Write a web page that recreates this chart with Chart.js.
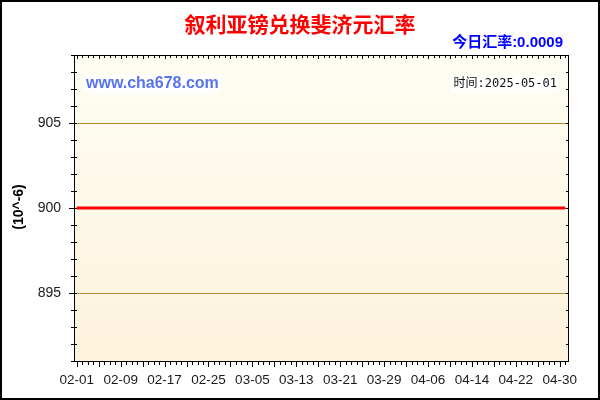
<!DOCTYPE html>
<html>
<head>
<meta charset="utf-8">
<script src="https://cdn.jsdelivr.net/npm/chart.js@4/dist/chart.umd.min.js"></script>
<style>
html,body{margin:0;padding:0;background:#fff;}
canvas{display:block;}
</style>
</head>
<body>
<canvas id="c" width="600" height="400" style="width:600px;height:400px"></canvas>
<script>
// ---- data ----
const titleText = '叙利亚镑兑换斐济元汇率';
const rateText = '今日汇率:0.0009';
const siteText = 'www.cha678.com';
const timeText = '时间:2025-05-01';
const unitText = '(10^-6)';

const dates = [
 '02-01','02-02','02-03','02-04','02-05','02-06','02-07','02-08','02-09','02-10',
 '02-11','02-12','02-13','02-14','02-15','02-16','02-17','02-18','02-19','02-20',
 '02-21','02-22','02-23','02-24','02-25','02-26','02-27','02-28',
 '03-01','03-02','03-03','03-04','03-05','03-06','03-07','03-08','03-09','03-10',
 '03-11','03-12','03-13','03-14','03-15','03-16','03-17','03-18','03-19','03-20',
 '03-21','03-22','03-23','03-24','03-25','03-26','03-27','03-28','03-29','03-30','03-31',
 '04-01','04-02','04-03','04-04','04-05','04-06','04-07','04-08','04-09','04-10',
 '04-11','04-12','04-13','04-14','04-15','04-16','04-17','04-18','04-19','04-20',
 '04-21','04-22','04-23','04-24','04-25','04-26','04-27','04-28','04-29','04-30',
 '05-01'
];
const rates = [
 900,900,900,900,900,900,900,900,900,900,
 900,900,900,900,900,900,900,900,900,900,
 900,900,900,900,900,900,900,900,
 900,900,900,900,900,900,900,900,900,900,
 900,900,900,900,900,900,900,900,900,900,
 900,900,900,900,900,900,900,900,900,900,900,
 900,900,900,900,900,900,900,900,900,900,
 900,900,900,900,900,900,900,900,900,900,
 900,900,900,900,900,900,900,900,900,900,
 900
];
const xTickLabels = ['02-01','02-09','02-17','02-25','03-05','03-13','03-21','03-29','04-06','04-14','04-22','04-30'];
const yTickLabels = [895, 900, 905];
const yMin = 891, yMax = 909;

// ---- plugins ----
const decor = {
  id: 'decor',
  beforeDraw(chart) {
    const ctx = chart.ctx, a = chart.chartArea;
    ctx.save();
    ctx.fillStyle = '#ffffff';
    ctx.fillRect(0, 0, chart.width, chart.height);
    const g = ctx.createLinearGradient(0, a.top, 0, a.bottom);
    g.addColorStop(0, '#fefef3');
    g.addColorStop(1, '#fdf2dc');
    ctx.fillStyle = g;
    ctx.fillRect(a.left, a.top, a.right - a.left, a.bottom - a.top);
    ctx.restore();
  },
  afterDraw(chart) {
    const ctx = chart.ctx, a = chart.chartArea;
    const xs = chart.scales.x, ys = chart.scales.y;
    ctx.save();
    // frame
    ctx.strokeStyle = '#000';
    ctx.lineWidth = 1;
    ctx.beginPath();
    ctx.rect(a.left + 0.5, a.top + 0.5, a.right - a.left, a.bottom - a.top);
    ctx.stroke();
    // x ticks (every day, longer every 4th)
    ctx.beginPath();
    for (let i = 0; i < dates.length; i++) {
      const x = Math.round(xs.getPixelForValue(i)) + 0.5;
      const major = i % 4 === 0;
      ctx.moveTo(x, a.bottom); ctx.lineTo(x, a.bottom + (major ? 6 : 4));
      ctx.moveTo(x, a.top); ctx.lineTo(x, a.top + (major ? 4 : 3));
    }
    // y ticks
    for (let v = yMin; v <= yMax; v++) {
      const y = Math.round(ys.getPixelForValue(v)) + 0.5;
      const major = yTickLabels.includes(v);
      ctx.moveTo(a.left - (major ? 5 : 3), y); ctx.lineTo(a.left + 3, y);
      ctx.moveTo(a.right - 2, y); ctx.lineTo(a.right + 1, y);
    }
    ctx.stroke();
    // canvas border
    ctx.lineWidth = 2;
    ctx.strokeRect(1, 1, chart.width - 2, chart.height - 2);
    // title
    ctx.textBaseline = 'middle';
    ctx.textAlign = 'center';
    ctx.fillStyle = '#ff0000';
    ctx.font = 'bold 21px "Noto Sans CJK SC", sans-serif';
    ctx.fillText(titleText, 300, 24);
    // today's rate
    ctx.textAlign = 'right';
    ctx.fillStyle = '#0000ff';
    ctx.font = 'bold 15px "Liberation Sans", "Noto Sans CJK SC", sans-serif';
    ctx.fillText(rateText, 563, 43);
    // watermark
    ctx.textAlign = 'left';
    ctx.font = 'bold 16px "Liberation Sans", sans-serif';
    let w = ctx.measureText(siteText).width;
    ctx.fillStyle = '#ffffff';
    ctx.fillRect(84, 75, w + 4, 18);
    ctx.fillStyle = '#5773ee';
    ctx.fillText(siteText, 86, 84);
    // time
    ctx.textAlign = 'right';
    ctx.font = '12px "DejaVu Sans Mono", "Noto Sans CJK SC", monospace';
    w = ctx.measureText(timeText).width;
    ctx.fillStyle = '#ffffff';
    ctx.fillRect(557 - w - 2, 76, w + 3, 16);
    ctx.fillStyle = '#111';
    ctx.fillText(timeText, 557, 84);
    // unit label
    ctx.translate(19, 207);
    ctx.rotate(-Math.PI / 2);
    ctx.textAlign = 'center';
    ctx.fillStyle = '#000';
    ctx.font = 'bold 14px "Liberation Sans", sans-serif';
    ctx.fillText(unitText, 0, 0);
    ctx.restore();
  }
};

new Chart(document.getElementById('c'), {
  type: 'line',
  data: {
    labels: dates,
    datasets: [{
      data: rates,
      borderColor: '#ff0000',
      borderWidth: 3,
      pointRadius: 0,
      fill: false,
      tension: 0
    }]
  },
  options: {
    responsive: false,
    animation: false,
    layout: { padding: { top: 55, right: 32, left: 0, bottom: 0 } },
    plugins: { legend: { display: false }, title: { display: false }, tooltip: { enabled: false } },
    scales: {
      x: {
        type: 'category',
        offset: true,
        grid: { display: false, drawTicks: false },
        border: { display: false },
        afterFit(s) { s.height = 39; },
        ticks: {
          autoSkip: false,
          maxRotation: 0,
          padding: 11,
          color: '#1a1a1a',
          font: { family: '"Liberation Sans", Arial, sans-serif', size: 13.5 },
          callback(v) { const l = this.getLabelForValue(v); return xTickLabels.includes(l) ? l : ''; }
        }
      },
      y: {
        min: yMin,
        max: yMax,
        afterFit(s) { s.width = 74; },
        grid: {
          drawTicks: false,
          color: (c) => (c.tick && yTickLabels.includes(c.tick.value)) ? '#b88a2e' : 'rgba(0,0,0,0)',
          lineWidth: 1
        },
        border: { display: false },
        ticks: {
          stepSize: 1,
          autoSkip: false,
          padding: 13,
          color: '#1a1a1a',
          font: { family: '"Liberation Sans", Arial, sans-serif', size: 14 },
          callback(v) { return yTickLabels.includes(v) ? String(v) : ''; }
        }
      }
    }
  },
  plugins: [decor]
});
</script>
</body>
</html>
